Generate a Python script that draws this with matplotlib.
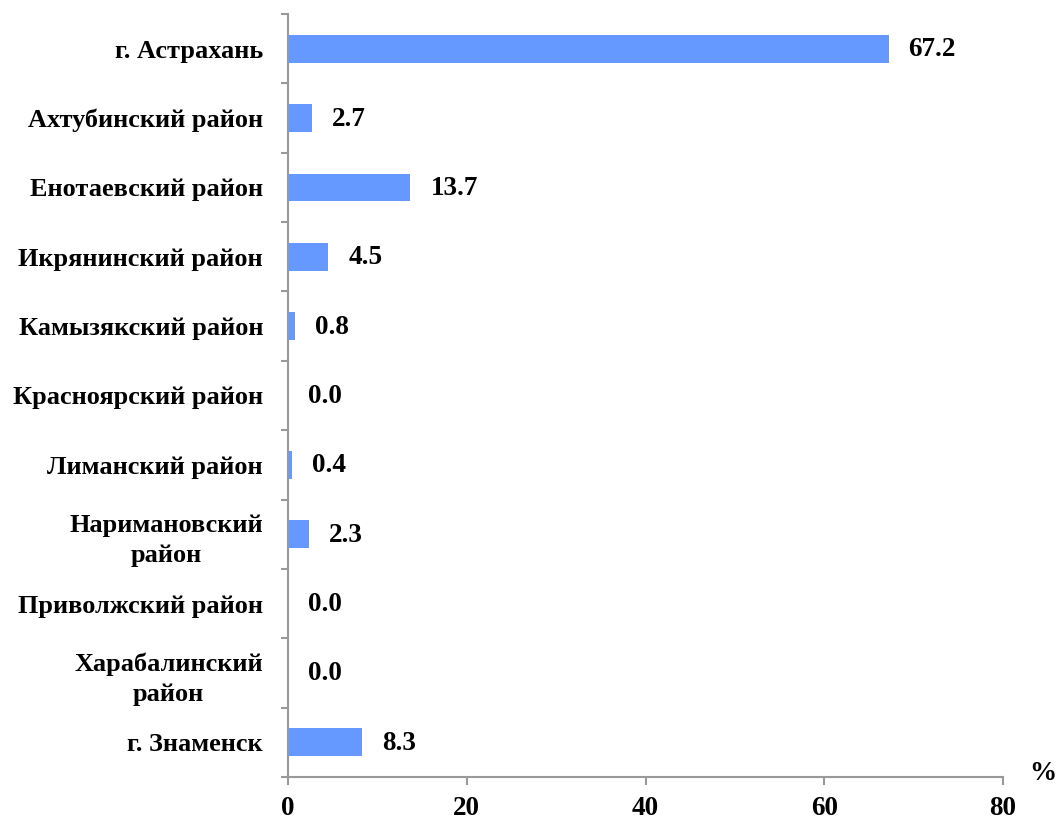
import matplotlib.pyplot as plt
import numpy as np

# ── Dati ──────────────────────────────────────────────
categories = [
    "г. Астрахань",
    "Ахтубинский район",
    "Енотаевский район",
    "Икрянинский район",
    "Камызякский район",
    "Красноярский район",
    "Лиманский район",
    "Наримановский\nрайон",
    "Приволжский район",
    "Харабалинский\nрайон",
    "г. Знаменск",
]
values = [67.2, 2.7, 13.7, 4.5, 0.8, 0.0, 0.4, 2.3, 0.0, 0.0, 8.3]
x_ticks = [0, 20, 40, 60, 80]

plt.rcParams['font.family'] = ['Liberation Serif', 'DejaVu Serif']
plt.rcParams['font.weight'] = 'bold'
FS = 19.5

fig = plt.figure(figsize=(10.57, 8.3), dpi=100)
ax = fig.add_axes([0.2725, 0.0639, 0.6764, 0.9192])

y = np.arange(len(categories))
ax.barh(y, values, height=0.4, color='#6699FF', edgecolor='none')

for yi, v in zip(y, values):
    ax.annotate(f"{v:.1f}", xy=(v, yi), xytext=(20, -1), textcoords='offset pixels',
                ha='left', va='center', fontsize=FS, fontweight='bold')

ax.set_ylim(len(categories) - 0.5, -0.5)
ax.set_xlim(0, 80)
ax.set_xticks(x_ticks)
ax.set_xticklabels([str(t) for t in x_ticks], fontsize=FS, fontweight='bold')

# tick delle categorie ai bordi
ax.set_yticks(np.arange(len(categories) + 1) - 0.5)
ax.set_yticklabels([])
ax.set_yticks(y, minor=True)
ax.set_yticklabels(categories, minor=True, fontsize=18.9, fontweight='bold',
                   multialignment='center', linespacing=1.4)
ax.tick_params(axis='y', which='minor', length=0, pad=18)
ax.tick_params(axis='y', which='major', length=5, width=1.5, color='#999999')
ax.tick_params(axis='x', length=6, width=1.5, color='#999999', pad=8)

for s in ['top', 'right']:
    ax.spines[s].set_visible(False)
for s in ['left', 'bottom']:
    ax.spines[s].set_color('#999999')
    ax.spines[s].set_linewidth(1.5)

# simbolo % in coordinate pixel della figura
fig.text(1043 / 1057, 1 - 773 / 830, "%", fontsize=FS, fontweight='bold',
         ha='center', va='center')

fig.savefig("out.png", dpi=100)
